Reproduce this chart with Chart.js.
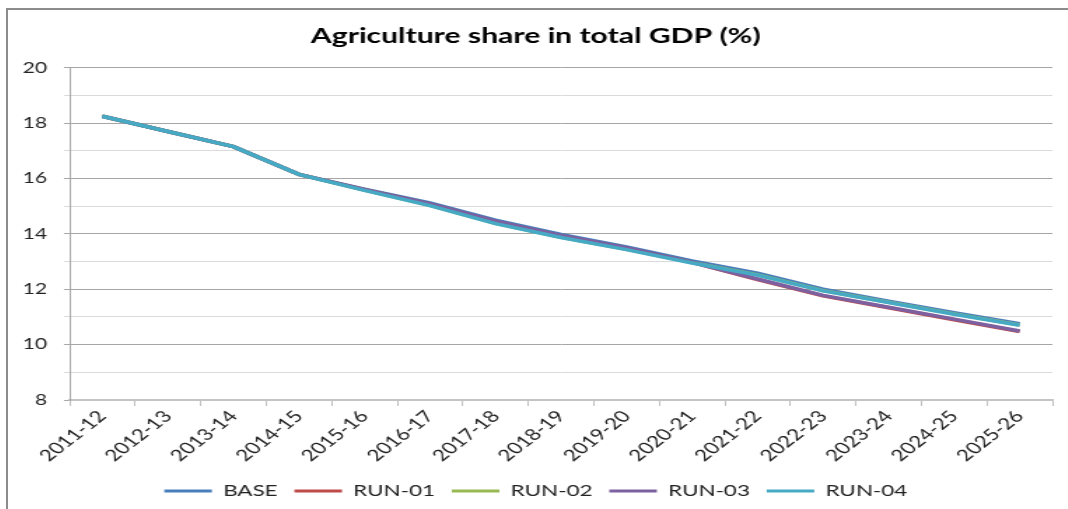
<!DOCTYPE html>
<html>
<head>
<meta charset="utf-8">
<title>Agriculture share in total GDP</title>
<script src="https://cdn.jsdelivr.net/npm/chart.js@4.4.1/dist/chart.umd.min.js"></script>
<style>
  body { margin: 0; background: #fff; overflow: hidden; }
  #frame {
    position: absolute; left: 6px; top: 8px; width: 1100px; height: 520px;
    border-left: 2px solid #8c8c8c; border-top: 2px solid #8c8c8c;
  }
  /* chart is laid out narrow and widened, like the exported sheet chart */
  #agriChart { position: absolute; left: 0; top: 0; transform: scaleX(1.4); transform-origin: 0 0; }
</style>
</head>
<body>
<div id="frame"><canvas id="agriChart" width="757" height="499"></canvas></div>
<script>
const years = ['2011-12', '2012-13', '2013-14', '2014-15', '2015-16', '2016-17', '2017-18', '2018-19',
               '2019-20', '2020-21', '2021-22', '2022-23', '2023-24', '2024-25', '2025-26'];

const base  = [18.25, 17.7, 17.15, 16.15, 15.62, 15.12, 14.5, 13.98, 13.53, 13.02, 12.58, 12.0, 11.57, 11.15, 10.76];
const run01 = [18.25, 17.7, 17.15, 16.15, 15.6, 15.07, 14.44, 13.93, 13.48, 12.97, 12.35, 11.76, 11.33, 10.9, 10.47];
const run02 = [18.25, 17.7, 17.15, 16.15, 15.58, 15.03, 14.38, 13.88, 13.44, 12.96, 12.52, 11.95, 11.53, 11.11, 10.71];
const run03 = [18.25, 17.7, 17.15, 16.15, 15.6, 15.08, 14.46, 13.94, 13.49, 12.97, 12.37, 11.78, 11.35, 10.92, 10.49];
const run04 = [18.25, 17.7, 17.15, 16.15, 15.57, 15.02, 14.37, 13.87, 13.43, 12.95, 12.51, 11.94, 11.52, 11.1, 10.7];

const seriesNames  = ['BASE', 'RUN-01', 'RUN-02', 'RUN-03', 'RUN-04'];
const seriesData   = [base, run01, run02, run03, run04];
const seriesColors = ['#4a7ebb', '#be4b48', '#98b954', '#7d60a0', '#46aac5'];

// only even values get a label, odd ones are the light minor lines
const yLabels = [8, 10, 12, 14, 16, 18, 20];

Chart.defaults.font.family = 'Lato, "Open Sans", sans-serif';

const datasets = seriesNames.map((name, i) => ({
    label: name,
    data: seriesData[i],
    borderColor: seriesColors[i],
    backgroundColor: seriesColors[i],
    borderWidth: 3.5,
    pointRadius: 0,
    tension: 0,
    // later runs sit on top of the earlier ones
    order: seriesNames.length - i
}));

const ctx = document.getElementById('agriChart').getContext('2d');
new Chart(ctx, {
    type: 'line',
    data: { labels: years, datasets: datasets },
    options: {
        responsive: false,
        animation: false,
        layout: { padding: { left: 8, right: 11, top: 0, bottom: 0 } },
        plugins: {
            title: {
                display: true,
                text: 'Agriculture share in total GDP (%)',
                color: '#000',
                font: { size: 21.5, weight: 'bold' },
                padding: { top: 13, bottom: 19 }
            },
            legend: {
                position: 'bottom',
                labels: {
                    boxWidth: 34,
                    boxHeight: 3,
                    padding: 12,
                    color: '#222',
                    font: { size: 16 },
                    sort: (a, b) => a.datasetIndex - b.datasetIndex,
                    generateLabels: chart => Chart.defaults.plugins.legend.labels.generateLabels(chart)
                        .map(item => ({ ...item, lineWidth: 0 }))
                }
            },
            tooltip: { enabled: false }
        },
        scales: {
            x: {
                offset: true,
                grid: { drawOnChartArea: false, offset: true, tickLength: 6, color: '#bfbfbf' },
                border: { color: '#c4c4c4', width: 2 },
                ticks: {
                    autoSkip: false,
                    minRotation: 47,
                    maxRotation: 47,
                    padding: 1,
                    color: '#222',
                    font: { size: 16 }
                },
                afterFit: scale => { scale.height = 71; }
            },
            y: {
                min: 8,
                max: 20,
                ticks: {
                    stepSize: 1,
                    padding: 12,
                    color: '#222',
                    font: { size: 15 },
                    callback: value => yLabels.includes(value) ? value : ''
                },
                grid: {
                    tickLength: 4,
                    color: c => (c.tick && c.tick.value % 2 === 0) ? '#a6a6a6' : '#dadada'
                },
                border: { color: '#a6a6a6' },
                afterFit: scale => { scale.width = 36; }
            }
        }
    }
});
</script>
</body>
</html>
